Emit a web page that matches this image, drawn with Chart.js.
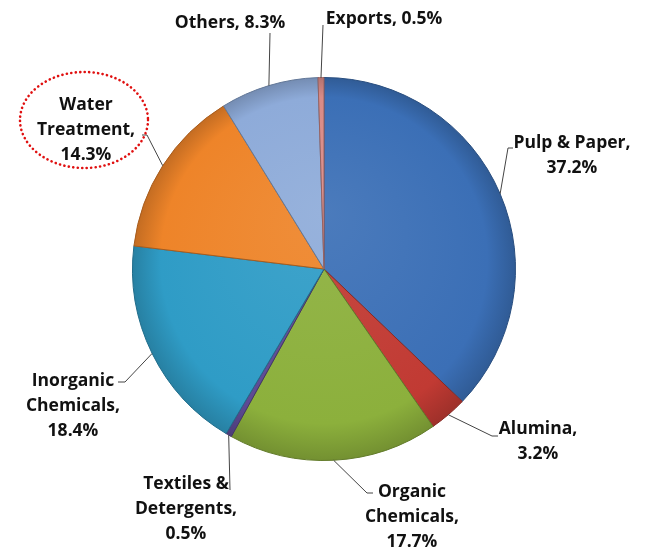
<!DOCTYPE html>
<html>
<head>
<meta charset="utf-8">
<script src="https://cdn.jsdelivr.net/npm/chart.js@4.4.1/dist/chart.umd.min.js"></script>
<style>
  html, body { margin: 0; padding: 0; background: #fff; }
  canvas { display: block; }
</style>
</head>
<body>
<canvas id="pieChart" width="650" height="548"></canvas>
<script>
// data, clockwise from 12 o'clock
const categories = ["Pulp & Paper", "Alumina", "Organic\nChemicals", "Textiles &\nDetergents",
  "Inorganic\nChemicals", "Water\nTreatment", "Others", "Exports"];
const shares = [37.2, 3.2, 17.7, 0.5, 18.4, 14.3, 8.3, 0.5];
const sliceColors = ["#3b6fb6", "#c13a33", "#8cb03c", "#5d4a94", "#2f9cc6", "#ee8429", "#8eabd9", "#d98b87"];

// where each label sits: text centre x, first baseline y, elbow + stub end of leader line
const labelPlace = [
  { x: 572, y: 148, oneLine: false, elbow: [508, 148], stub: [513, 148] },
  { x: 538, y: 434, oneLine: false, elbow: [492, 436], stub: [498, 436] },
  { x: 412, y: 497, oneLine: false, elbow: [367, 493], stub: [373, 493] },
  { x: 186, y: 489, oneLine: false, elbow: null, stub: [230, 490] },
  { x: 73, y: 386, oneLine: false, elbow: [125, 382], stub: [118, 382] },
  { x: 86, y: 110, oneLine: false, elbow: [147, 135], stub: [142, 135] },
  { x: 230, y: 28, oneLine: true, elbow: null, stub: [270, 33] },
  { x: 384, y: 24, oneLine: true, elbow: null, stub: [323, 25] }
];

function shade(hex, f) {
  const n = parseInt(hex.slice(1), 16);
  let r = (n >> 16) & 255, g = (n >> 8) & 255, b = n & 255;
  if (f >= 0) { r += (255 - r) * f; g += (255 - g) * f; b += (255 - b) * f; }
  else { r *= 1 + f; g *= 1 + f; b *= 1 + f; }
  return "rgb(" + Math.round(r) + "," + Math.round(g) + "," + Math.round(b) + ")";
}

const calloutPlugin = {
  id: "callouts",
  afterDatasetsDraw(chart) {
    const ctx = chart.ctx;
    const arcs = chart.getDatasetMeta(0).data;
    ctx.save();
    arcs.forEach((arc, i) => {
      const p = labelPlace[i];
      const mid = (arc.startAngle + arc.endAngle) / 2;
      const sx = arc.x + Math.cos(mid) * arc.outerRadius;
      const sy = arc.y + Math.sin(mid) * arc.outerRadius;
      ctx.strokeStyle = "#444";
      ctx.lineWidth = 1;
      ctx.beginPath();
      ctx.moveTo(sx, sy);
      if (p.elbow) ctx.lineTo(p.elbow[0], p.elbow[1]);
      ctx.lineTo(p.stub[0], p.stub[1]);
      ctx.stroke();

      const name = categories[i];
      const value = shares[i].toFixed(1) + "%";
      const lines = p.oneLine ? [name + ", " + value] : (name + ",").split("\n").concat([value]);
      ctx.fillStyle = "#111";
      ctx.font = "bold 17.5px 'Open Sans', 'Liberation Sans', sans-serif";
      ctx.textAlign = "center";
      ctx.textBaseline = "alphabetic";
      lines.forEach((t, k) => ctx.fillText(t, p.x, p.y + k * 25));
    });

    // red dotted ring around the Water Treatment label
    ctx.strokeStyle = "#e01010";
    ctx.lineWidth = 2.6;
    ctx.setLineDash([0.1, 4.4]);
    ctx.lineCap = "round";
    ctx.beginPath();
    ctx.ellipse(84, 120, 64, 48, 0, 0, Math.PI * 2);
    ctx.stroke();
    ctx.restore();
  }
};

new Chart(document.getElementById("pieChart"), {
  type: "pie",
  data: {
    labels: categories,
    datasets: [{
      data: shares,
      backgroundColor: (c) => {
        const base = sliceColors[c.dataIndex];
        const area = c.chart.chartArea;
        if (!area) return base;
        const cx = (area.left + area.right) / 2, cy = (area.top + area.bottom) / 2;
        const r = Math.min(area.right - area.left, area.bottom - area.top) / 2;
        const g = c.chart.ctx.createRadialGradient(cx, cy - r * 0.3, 0, cx, cy, r);
        g.addColorStop(0, shade(base, 0.08));
        g.addColorStop(0.85, base);
        g.addColorStop(1, shade(base, -0.18));
        return g;
      },
      borderColor: sliceColors.map((c) => shade(c, -0.3)),
      borderWidth: 1
    }]
  },
  options: {
    responsive: false,
    animation: false,
    layout: { padding: { top: 77, bottom: 87, left: 0, right: 2 } },
    plugins: {
      legend: { display: false },
      tooltip: { enabled: false },
      title: { display: false }
    }
  },
  plugins: [calloutPlugin]
});
</script>
</body>
</html>
